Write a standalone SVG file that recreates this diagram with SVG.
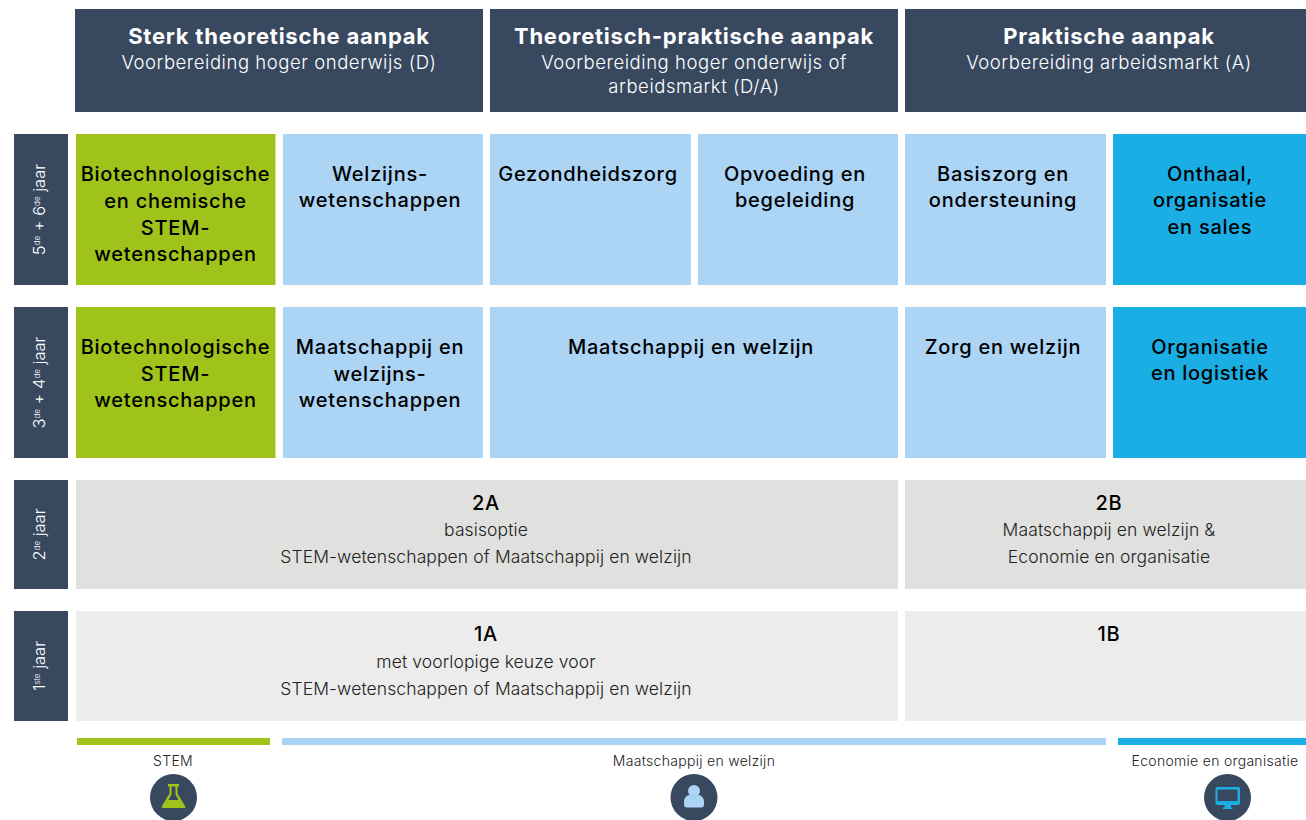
<svg xmlns="http://www.w3.org/2000/svg" width="1306" height="820" viewBox="0 0 1306 820">
<style>
text{font-family:"Inter","Liberation Sans",sans-serif;text-anchor:middle}
.navy{fill:#38485f}.green{fill:#9fc31a}.light{fill:#abd4f5}.blue{fill:#1baee4}.g1{fill:#e0e0de}.g2{fill:#ececec}
.h{font-size:22px;font-weight:700;fill:#fff;letter-spacing:.76px}
.hs{font-size:18.500px;font-weight:300;fill:#fff;letter-spacing:.55px}
.c{font-size:20px;font-weight:450;fill:#000;letter-spacing:.75px}
.s{font-size:17.500px;font-weight:300;fill:#222;letter-spacing:.1px}
.y{font-size:16.500px;font-weight:300;fill:#fff}
.sup{font-size:8px}
.l{font-size:14px;font-weight:300;fill:#222;letter-spacing:.3px}
</style>
<rect width="1306" height="820" fill="#fff"/>
<g id="header-d"><rect class="navy" x="75" y="9" width="408" height="103"/><text class="h" x="279" y="44">Sterk theoretische aanpak</text><text class="hs" x="279" y="69">Voorbereiding hoger onderwijs (D)</text></g>
<g id="header-da"><rect class="navy" x="490" y="9" width="408" height="103"/><text class="h" x="694" y="44">Theoretisch-praktische aanpak</text><text class="hs" x="694" y="69">Voorbereiding hoger onderwijs of</text><text class="hs" x="694" y="93">arbeidsmarkt (D/A)</text></g>
<g id="header-a"><rect class="navy" x="905" y="9" width="401" height="103"/><text class="h" x="1109" y="44">Praktische aanpak</text><text class="hs" x="1109" y="69">Voorbereiding arbeidsmarkt (A)</text></g>

<g id="year-56"><rect class="navy" x="14" y="134" width="54" height="151"/><text class="y" transform="translate(45 209.500) rotate(-90)">5<tspan class="sup" dy="-5">de</tspan><tspan dy="5"> + 6</tspan><tspan class="sup" dy="-5">de</tspan><tspan dy="5"> jaar</tspan></text></g>
<g id="year-34"><rect class="navy" x="14" y="307" width="54" height="151"/><text class="y" transform="translate(45 382.500) rotate(-90)">3<tspan class="sup" dy="-5">de</tspan><tspan dy="5"> + 4</tspan><tspan class="sup" dy="-5">de</tspan><tspan dy="5"> jaar</tspan></text></g>
<g id="year-2"><rect class="navy" x="14" y="480" width="54" height="109"/><text class="y" transform="translate(45 534.500) rotate(-90)">2<tspan class="sup" dy="-5">de</tspan><tspan dy="5"> jaar</tspan></text></g>
<g id="year-1"><rect class="navy" x="14" y="611" width="54" height="110"/><text class="y" transform="translate(45 666) rotate(-90)">1<tspan class="sup" dy="-5">ste</tspan><tspan dy="5"> jaar</tspan></text></g>

<g id="r1-1"><rect class="green" x="76" y="134" width="199.500" height="151"/><text class="c" x="175.500" y="181">Biotechnologische</text><text class="c" x="175.500" y="208">en chemische</text><text class="c" x="175.500" y="234.500">STEM-</text><text class="c" x="175.500" y="261">wetenschappen</text></g>
<g id="r1-2"><rect class="light" x="283" y="134" width="200" height="151"/><text class="c" x="380" y="181">Welzijns-</text><text class="c" x="380" y="207">wetenschappen</text></g>
<g id="r1-3"><rect class="light" x="490" y="134" width="201" height="151"/><text class="c" x="588" y="181">Gezondheidszorg</text></g>
<g id="r1-4"><rect class="light" x="698" y="134" width="200" height="151"/><text class="c" x="795" y="181">Opvoeding en</text><text class="c" x="795" y="207">begeleiding</text></g>
<g id="r1-5"><rect class="light" x="905" y="134" width="201" height="151"/><text class="c" x="1003" y="181">Basiszorg en</text><text class="c" x="1003" y="207">ondersteuning</text></g>
<g id="r1-6"><rect class="blue" x="1113" y="134" width="193" height="151"/><text class="c" x="1210" y="181">Onthaal,</text><text class="c" x="1210" y="207">organisatie</text><text class="c" x="1210" y="234">en sales</text></g>

<g id="r2-1"><rect class="green" x="76" y="307" width="199.500" height="151"/><text class="c" x="175.500" y="354">Biotechnologische</text><text class="c" x="175.500" y="380.500">STEM-</text><text class="c" x="175.500" y="407">wetenschappen</text></g>
<g id="r2-2"><rect class="light" x="283" y="307" width="200" height="151"/><text class="c" x="380" y="354">Maatschappij en</text><text class="c" x="380" y="380.500">welzijns-</text><text class="c" x="380" y="407">wetenschappen</text></g>
<g id="r2-3"><rect class="light" x="490" y="307" width="408" height="151"/><text class="c" x="691" y="354">Maatschappij en welzijn</text></g>
<g id="r2-4"><rect class="light" x="905" y="307" width="201" height="151"/><text class="c" x="1003" y="354">Zorg en welzijn</text></g>
<g id="r2-5"><rect class="blue" x="1113" y="307" width="193" height="151"/><text class="c" x="1210" y="354">Organisatie</text><text class="c" x="1210" y="380">en logistiek</text></g>

<g id="r3-a"><rect class="g1" x="76" y="480" width="822" height="109"/><text class="c" x="486" y="510">2A</text><text class="s" x="486" y="536">basisoptie</text><text class="s" x="486" y="563">STEM-wetenschappen of Maatschappij en welzijn</text></g>
<g id="r3-b"><rect class="g1" x="905" y="480" width="401" height="109"/><text class="c" x="1109" y="510">2B</text><text class="s" x="1109" y="536">Maatschappij en welzijn &amp;</text><text class="s" x="1109" y="563">Economie en organisatie</text></g>
<g id="r4-a"><rect class="g2" x="76" y="611" width="822" height="110"/><text class="c" x="486" y="641">1A</text><text class="s" x="486" y="668">met voorlopige keuze voor</text><text class="s" x="486" y="695">STEM-wetenschappen of Maatschappij en welzijn</text></g>
<g id="r4-b"><rect class="g2" x="905" y="611" width="401" height="110"/><text class="c" x="1109" y="641">1B</text></g>

<g id="legend-stem"><rect class="green" x="77" y="738" width="193" height="7"/><text class="l" x="173" y="766">STEM</text><circle class="navy" cx="173.500" cy="797.500" r="23.500"/><path class="green" fill-rule="evenodd" d="M168 784h11v2.500h-1.500v7l7.500 12.500q1 2-1 2h-21q-2 0-1-2l7.500-12.500v-7h-1.500zM171.500 786.500v8l-3 5.500h10l-3-5.500v-8z"/></g>
<g id="legend-mw"><rect class="light" x="282" y="738" width="824" height="7"/><text class="l" x="694" y="766">Maatschappij en welzijn</text><circle class="navy" cx="694" cy="797.500" r="23.500"/><circle class="light" cx="694" cy="791" r="6"/><path class="light" d="M687 807.500q-3 0-3-3v-3q0-5 5-6.500q5 3 10 0q5 1.500 5 6.500v3q0 3-3 3z"/></g>
<g id="legend-eo"><rect class="blue" x="1118" y="738" width="188" height="7"/><text class="l" x="1215" y="766">Economie en organisatie</text><circle class="navy" cx="1227.500" cy="797.500" r="23.500"/><path class="blue" fill-rule="evenodd" d="M1217 787h21q2 0 2 2v14q0 2-2 2h-7v2.500h1.500v1.500h-9.500v-1.500h1.500v-2.500h-7q-2 0-2-2v-14q0-2 2-2zM1217.500 789.500v11.500h20v-11.500z"/></g>
</svg>
